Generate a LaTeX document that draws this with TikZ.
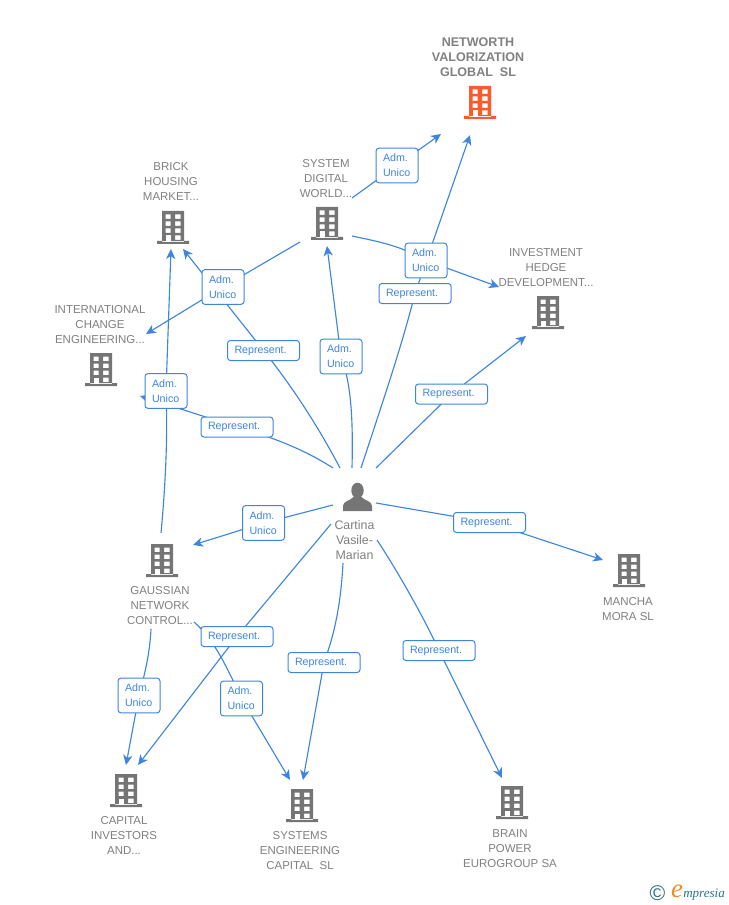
\documentclass[tikz,border=0pt]{standalone}
\usepackage{fontspec}
\setmainfont{Liberation Sans}
\newfontfamily\logofont{Liberation Serif}
\usetikzlibrary{arrows.meta,backgrounds}
\definecolor{linkblue}{HTML}{3D85E0}
\definecolor{iconGray}{HTML}{757575}
\definecolor{textGray}{HTML}{808080}
\definecolor{hotOrange}{HTML}{FF5A2B}
\definecolor{logoTeal}{HTML}{2F7186}
\definecolor{logoOrange}{HTML}{F28A1E}
\tikzset{
  x=0.75pt,y=-0.75pt,
  tag/.style={draw=linkblue,line width=0.75pt,rounded corners=2.2pt,fill=white,text=linkblue,
    font=\fontsize{8}{11.25}\selectfont,align=left,inner xsep=5.25pt,inner ysep=0pt,outer sep=0pt},
  rep/.style={tag,text width=43.5pt,minimum height=15pt},
  adm/.style={tag,text width=21pt,minimum height=26pt},
  lbl/.style={text=textGray,font=\fontsize{8.6}{11.25}\selectfont,align=center,inner sep=0pt,yshift=-0.5pt},
  link/.style={draw=linkblue,line width=0.85pt},
  tip/.style={link,-{Stealth[length=7.5pt,width=7pt,inset=2.2pt]}},
  pics/bldg/.style={code={
    \fill[#1,even odd rule]
      (-16,13) rectangle (16,16)
      (-11,-17) rectangle (11,14)
      (-7.5,-13.5) rectangle (-2.5,-9) (2,-13.5) rectangle (7.5,-9)
      (-7.5,-6.5) rectangle (-2.5,-2) (2,-6.5) rectangle (7.5,-2)
      (-7.5,0.5) rectangle (-2.5,5) (2,0.5) rectangle (7.5,5)
      (2,7.5) rectangle (7.5,12);
    \fill[white] (-7.5,7.5) rectangle (-2.5,14);
  }}
}
\begin{document}
\begin{tikzpicture}
\useasboundingbox (0,0) rectangle (728,905);
% text labels
\node[lbl,font=\fontsize{9.4}{11.25}\selectfont\bfseries] (tNet) at (478,57) {NETWORTH\\VALORIZATION\\GLOBAL\ \ SL};
\node[lbl] (tBrick) at (171,181) {BRICK\\HOUSING\\MARKET...};
\node[lbl] (tSys) at (326,178) {SYSTEM\\DIGITAL\\WORLD...};
\node[lbl] (tInv) at (546,267) {INVESTMENT\\HEDGE\\DEVELOPMENT...};
\node[lbl] (tInt) at (100,324) {INTERNATIONAL\\CHANGE\\ENGINEERING...};
\node[lbl] (tGau) at (160,605) {GAUSSIAN\\NETWORK\\CONTROL...};
\node[lbl] (tMan) at (628,608.5) {MANCHA\\MORA SL};
\node[lbl] (tCap) at (124,835) {CAPITAL\\INVESTORS\\AND...};
\node[lbl] (tSe) at (300,850) {SYSTEMS\\ENGINEERING\\CAPITAL\ \ SL};
\node[lbl] (tBra) at (510,848) {BRAIN\\POWER\\EUROGROUP SA};
\node[lbl,font=\fontsize{9.3}{11.25}\selectfont] (tPer) at (354.5,539) {Cartina\\Vasile-\\Marian};
% buildings
\pic at (480,103) {bldg=hotOrange};
\pic at (173,228) {bldg=iconGray};
\pic at (327,224) {bldg=iconGray};
\pic at (548,313) {bldg=iconGray};
\pic at (101,370) {bldg=iconGray};
\pic at (162,561) {bldg=iconGray};
\pic at (629,571) {bldg=iconGray};
\pic at (126,791) {bldg=iconGray};
\pic at (302,806) {bldg=iconGray};
\pic at (512,803) {bldg=iconGray};
% person
\fill[iconGray] (357.5,490.5) ellipse (6.2 and 7.8);
\fill[iconGray] (343,511) -- (343,506) .. controls (343,501) and (350,501) .. (353.5,497) -- (361.5,497)
  .. controls (365,501) and (372,501) .. (372,506) -- (372,511) -- cycle;
% connector labels
\node[adm] (a1) at (397,165.5) {Adm.\\Unico};
\node[adm] (a2) at (426,260.5) {Adm.\\Unico};
\node[rep] (r1) at (415,293.5) {Represent.};
\node[adm] (a3) at (223,287) {Adm.\\Unico};
\node[rep] (r2) at (263.5,350.5) {Represent.};
\node[adm] (a4) at (341,356.5) {Adm.\\Unico};
\node[rep] (r3) at (451.5,394) {Represent.};
\node[adm] (a5) at (166,391) {Adm.\\Unico};
\node[rep] (r4) at (237,427) {Represent.};
\node[adm] (a6) at (263.5,523) {Adm.\\Unico};
\node[rep] (r5) at (489.5,522.5) {Represent.};
\node[rep] (r6) at (237,636.5) {Represent.};
\node[rep] (r7) at (324,662.5) {Represent.};
\node[rep] (r8) at (439,650.5) {Represent.};
\node[adm] (a7) at (139,695.5) {Adm.\\Unico};
\node[adm] (a8) at (241.5,698.5) {Adm.\\Unico};
% free connector ends
\coordinate (sysA) at (352,198);
\coordinate (netA) at (441,134);
\coordinate (perN) at (361,468);
\coordinate (netB) at (470,135);
\coordinate (sysR) at (352,236);
\coordinate (invL) at (499,287);
\coordinate (perB) at (340,468);
\coordinate (briB) at (183,249);
\coordinate (perC) at (352,468);
\coordinate (sysB) at (327,246);
\coordinate (perD) at (376,468);
\coordinate (invB) at (526,336);
\coordinate (perE) at (333,468);
\coordinate (intB) at (140,396);
\coordinate (gauT) at (161,533);
\coordinate (briC) at (171,249);
\coordinate (sysL) at (300,242);
\coordinate (intR) at (146,334);
\coordinate (perF) at (333,505);
\coordinate (gauR) at (193,545);
\coordinate (perG) at (376,503);
\coordinate (manL) at (603,560);
\coordinate (perH) at (331,524);
\coordinate (capA) at (138,765);
\coordinate (gauB) at (151,629);
\coordinate (capB) at (126,765);
\coordinate (gauC) at (194,622);
\coordinate (seA) at (290,780);
\coordinate (perI) at (343,563);
\coordinate (seB) at (303,780);
\coordinate (perJ) at (377,540);
\coordinate (braT) at (502,778);
\begin{scope}[on background layer]
  \draw[link] (sysA) -- (a1.center);
  \draw[tip] (a1.center) -- (netA);
  \draw[link] (perN) .. controls (385,395) and (402,345) .. (r1.center);
  \draw[tip] (r1.center) -- (netB);
  \draw[link] (sysR) .. controls (375,241) and (400,245) .. (a2.center);
  \draw[tip] (a2.center) -- (invL);
  \draw[link] (perB) .. controls (320,430) and (295,390) .. (r2.center);
  \draw[tip] (r2.center) -- (briB);
  \draw[link] (perC) .. controls (353,425) and (352,385) .. (a4.center);
  \draw[tip] (a4.center) -- (sysB);
  \draw[link] (perD) -- (r3.center);
  \draw[tip] (r3.center) -- (invB);
  \draw[link] (perE) .. controls (305,450) and (275,438) .. (r4.center);
  \draw[tip] (r4.center) -- (intB);
  \draw[link] (gauT) .. controls (165,490) and (168,440) .. (a5.center);
  \draw[tip] (a5.center) -- (briC);
  \draw[link] (sysL) -- (a3.center);
  \draw[tip] (a3.center) -- (intR);
  \draw[link] (perF) -- (a6.center);
  \draw[tip] (a6.center) -- (gauR);
  \draw[link] (perG) -- (r5.center);
  \draw[tip] (r5.center) -- (manL);
  \draw[link] (perH) -- (r6.center);
  \draw[tip] (r6.center) -- (capA);
  \draw[link] (gauB) .. controls (150,650) and (146,670) .. (a7.center);
  \draw[tip] (a7.center) -- (capB);
  \draw[link] (gauC) .. controls (215,640) and (228,670) .. (a8.center);
  \draw[tip] (a8.center) -- (seA);
  \draw[link] (perI) .. controls (341,600) and (336,630) .. (r7.center);
  \draw[tip] (r7.center) -- (seB);
  \draw[link] (perJ) .. controls (400,575) and (425,620) .. (r8.center);
  \draw[tip] (r8.center) -- (braT);
\end{scope}
% logo
\node[inner sep=0pt,text=logoTeal,font=\fontsize{16}{16}\selectfont] (logoC) at (657.5,893.5) {©};
\node[inner sep=0pt,text=logoOrange,font=\logofont\itshape\fontsize{20}{20}\selectfont] (logoE) at (677,891) {e};
\node[inner sep=0pt,anchor=west,text=logoTeal,font=\logofont\itshape\fontsize{9.8}{12}\selectfont] (logoT) at (683,895) {mpresia};
\end{tikzpicture}
\end{document}
